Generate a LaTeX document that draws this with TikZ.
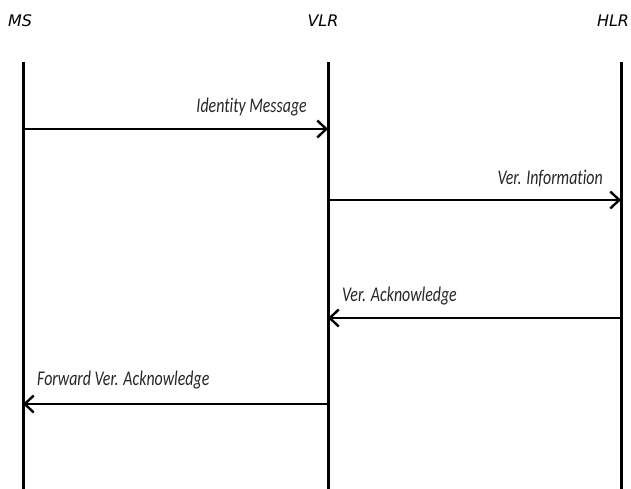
\documentclass[tikz,border=0pt]{standalone}
\usepackage{fontspec}
\setmainfont{DejaVu Sans}
\newfontfamily\msgfont[FakeStretch=0.76,Ligatures=NoCommon]{Carlito}
\usetikzlibrary{arrows.meta}

\begin{document}
\begin{tikzpicture}[
      x=1bp, y=-1bp,
      entity/.style={font=\fontsize{16}{19}\selectfont\itshape,inner sep=0pt,anchor=base},
      lifeline/.style={line width=3bp},
      msg/.style={line width=2.4bp,-{Straight Barb[length=9bp,width=17bp,line width=2.4bp]}},
      msglabel/.style={font=\msgfont\itshape\fontsize{21}{24}\selectfont,inner sep=0pt,text=black!85}
    ]
    \useasboundingbox (0,0) rectangle (631,489);
    % Draw the entities.
    \node[entity] (ms)  at (20,27)  {MS};
    \node[entity] (vlr) at (323,27) {VLR};
    \node[entity] (hlr) at (613,27) {HLR};
    % Draw the lifelines.
    \coordinate (mstop)  at (23,62);   \coordinate (msbot)  at (23,489);
    \coordinate (vlrtop) at (328,62);  \coordinate (vlrbot) at (328,489);
    \coordinate (hlrtop) at (621,62);  \coordinate (hlrbot) at (621,489);
    \draw[lifeline] (mstop)  -- (msbot);
    \draw[lifeline] (vlrtop) -- (vlrbot);
    \draw[lifeline] (hlrtop) -- (hlrbot);
    % Draw the messages.
    \coordinate (ms1)  at (23,129);  \coordinate (vlr1) at (328,129);
    \coordinate (vlr2) at (328,200); \coordinate (hlr2) at (621,200);
    \coordinate (hlr3) at (621,318); \coordinate (vlr3) at (328,318);
    \coordinate (vlr4) at (328,404); \coordinate (ms4)  at (23,404);
    \draw[msg] (ms1)  -- (vlr1);
    \draw[msg] (vlr2) -- (hlr2);
    \draw[msg] (hlr3) -- (vlr3);
    \draw[msg] (vlr4) -- (ms4);
    % Draw the message labels.
    \node[msglabel,anchor=base east] (idmsg)  at (307,113) {Identity Message};
    \node[msglabel,anchor=base east] (verinf) at (603,185) {Ver. Information};
    \node[msglabel,anchor=base west] (verack) at (342,301) {Ver. Acknowledge};
    \node[msglabel,anchor=base west] (fwdack) at (37,385)  {Forward Ver. Acknowledge};
\end{tikzpicture}
\end{document}
